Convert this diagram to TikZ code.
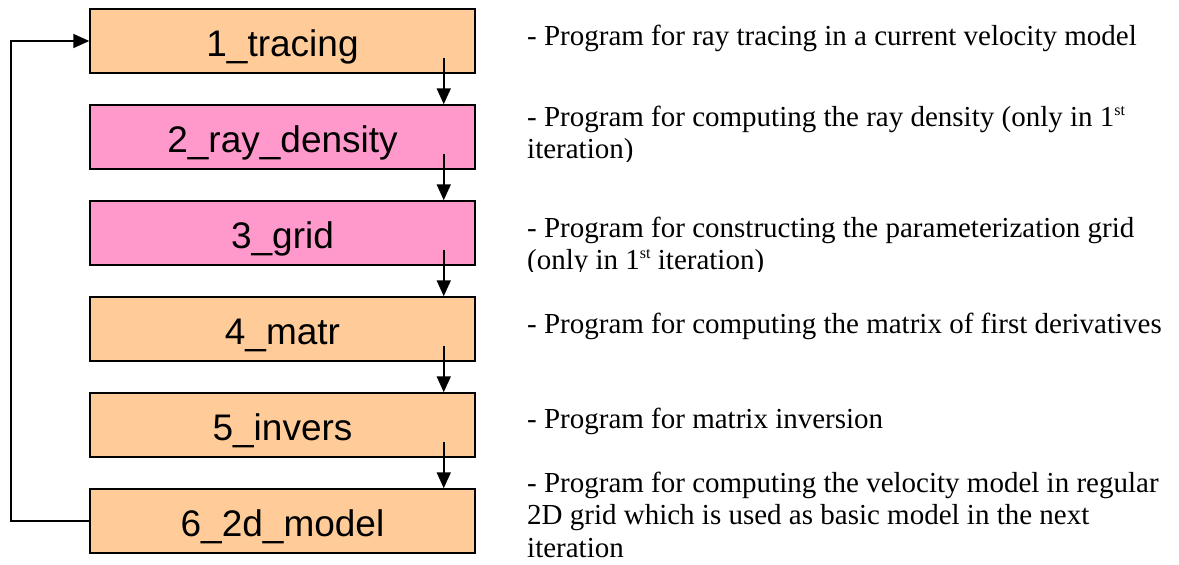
\documentclass[tikz,border=0pt]{standalone}
\usepackage{fontspec}
\setmainfont{Liberation Serif}
\newfontfamily\boxfont{Liberation Sans}
\usetikzlibrary{arrows.meta}
\definecolor{boxorange}{HTML}{FFCC99}
\definecolor{boxpink}{HTML}{FF99CC}
\newcommand{\supst}{\raisebox{11pt}{\fontsize{16}{16}\selectfont st}}
\begin{document}
\begin{tikzpicture}[x=1pt,y=-1pt,
  prog/.style={draw=black,line width=1.5pt,minimum width=385pt,minimum height=64pt,
    inner sep=0pt,text height=30pt,text depth=0pt,font=\boxfont\fontsize{37}{44}\selectfont},
  orangebox/.style={prog,fill=boxorange},
  pinkbox/.style={prog,fill=boxpink},
  flow/.style={line width=1.8pt,-{Triangle[length=16pt,width=14pt]}},
  desc/.style={anchor=base west,inner sep=0pt,font=\fontsize{29}{32.5}\selectfont}]
\useasboundingbox (0,0) rectangle (1179,565);
\node[orangebox] (b1) at (282.5,41) {1\_tracing};
\node[pinkbox]   (b2) at (282.5,137) {2\_ray\_density};
\node[pinkbox]   (b3) at (282.5,233) {3\_grid};
\node[orangebox] (b4) at (282.5,329) {4\_matr};
\node[orangebox] (b5) at (282.5,425) {5\_invers};
\node[orangebox] (b6) at (282.5,521) {6\_2d\_model};
\foreach \a/\b in {b1/b2,b2/b3,b3/b4,b4/b5,b5/b6}
  \draw[flow] ([xshift=-32pt,yshift=16pt]\a.south east) -- ([xshift=-32pt]\b.north east);
\draw[flow] (b6.west) -- ++(-78,0) |- (b1.west);
\node[desc] (d1) at (527,45) {- Program for ray tracing in a current velocity model};
\begin{scope}
  \clip (500,90) rectangle (1179,161.5);
  \node[desc] (d2) at (527,126) {\begin{tabular}[t]{@{}l@{}}- Program for computing the ray density (only in 1\supst\\iteration)\end{tabular}};
\end{scope}
\begin{scope}
  \clip (500,200) rectangle (1179,271.5);
  \node[desc] (d3) at (527,237) {\begin{tabular}[t]{@{}l@{}}- Program for constructing the parameterization grid\\(only in 1\supst{} iteration)\end{tabular}};
\end{scope}
\node[desc] (d4) at (527,333) {- Program for computing the matrix of first derivatives};
\node[desc] (d5) at (527,428) {- Program for matrix inversion};
\node[desc] (d6) at (527,492) {\begin{tabular}[t]{@{}l@{}}- Program for computing the velocity model in regular\\2D grid which is used as basic model in the next\\iteration\end{tabular}};
\end{tikzpicture}
\end{document}
